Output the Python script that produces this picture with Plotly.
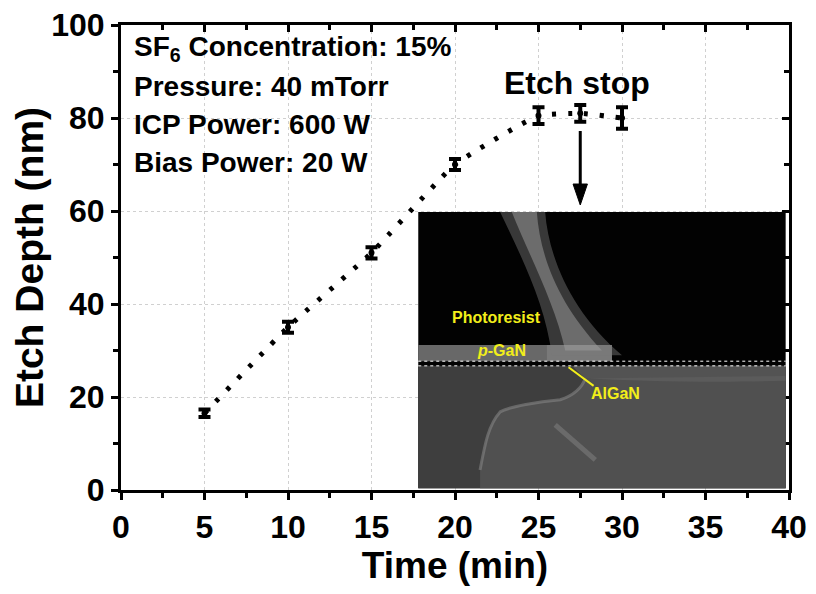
import plotly.graph_objects as go

# etch depth vs time
time_min = [5, 10, 15, 20, 25, 27.5, 30]
etch_depth = [16.5, 35, 51, 70, 80.5, 81, 80]
depth_err = [0.8, 1.2, 1.2, 1.2, 1.8, 1.8, 2.3]

condition_lines = ["SF<sub>6</sub> Concentration: 15%", "Pressure: 40 mTorr",
                   "ICP Power: 600 W", "Bias Power: 20 W"]

FONT = "Liberation Sans"
YELLOW = "#f2ee1a"

fig = go.Figure()

fig.add_trace(go.Scatter(
    x=time_min, y=etch_depth, mode="lines+markers",
    line=dict(color="black", width=5, dash="4px,12px", shape="spline", smoothing=0.4),
    marker=dict(color="black", size=6, symbol="circle"),
    error_y=dict(type="data", array=depth_err, color="black", thickness=4, width=6),
    showlegend=False,
))
# empty trace so the top/right frame axes get drawn
fig.add_trace(go.Scatter(x=[None], y=[None], xaxis="x2", yaxis="y2", showlegend=False, hoverinfo="skip"))

# inset SEM micrograph, drawn with shapes
ix0, ix1, iy0, iy1 = 17.8, 39.8, 0.4, 59.8
shapes = [
    dict(type="rect", x0=ix0, x1=ix1, y0=iy0, y1=iy1, fillcolor="#020202", line_width=0, layer="above"),
    # substrate
    dict(type="rect", x0=ix0, x1=ix1, y0=iy0, y1=26.7, fillcolor="#3e3e3e", line_width=0, layer="above"),
    # lighter region under the rounded hump
    dict(type="path", path="M 21.5 0.4 L 21.5 4.3 C 21.8 10, 22 14, 22.7 16.8 C 23.3 18, 25 19, 26.3 19.4 "
                            "C 27.2 20.5, 27.6 22, 27.8 24 L 39.8 24.5 L 39.8 0.4 Z",
         fillcolor="#545454", line_width=0, opacity=0.85, layer="above"),
    dict(type="path", path="M 21.5 4.3 C 21.8 10, 22 14, 22.7 16.8 C 23.3 18, 25 19, 26.3 19.4 C 27.2 20.5, 27.6 22, 27.8 24",
         line=dict(color="#8a8a8a", width=3), opacity=0.55, layer="above"),
    dict(type="path", path="M 27.8 24 C 31 23.5, 35 23, 39.8 23.5 L 39.8 26.7 L 27 26.7 Z",
         fillcolor="#626262", line_width=0, opacity=0.6, layer="above"),
    # small diagonal streak in the substrate
    dict(type="line", x0=26.0, y0=14.0, x1=28.4, y1=6.5, line=dict(color="#7c7c7c", width=5), opacity=0.6, layer="above"),
    # p-GaN band
    dict(type="rect", x0=ix0, x1=29.4, y0=27.7, y1=31.2, fillcolor="#686868", line_width=0, layer="above"),
    dict(type="rect", x0=25.5, x1=29.4, y0=27.7, y1=31.2, fillcolor="#8a8a8a", line_width=0, opacity=0.5, layer="above"),
    # bright sidewall streak (soft outer, brighter core)
    dict(type="path", path="M 22.7 59.8 L 25.4 59.8 C 25.6 50, 27 38, 30.0 29 L 25.8 29 C 25.4 40, 24 50, 22.7 59.8 Z",
         fillcolor="#7a7a7a", line_width=0, opacity=0.45, layer="above"),
    dict(type="path", path="M 23.4 59.8 L 24.9 59.8 C 25.1 50, 26.2 40, 28.8 30 L 26.6 30 C 26 40, 24.5 50, 23.4 59.8 Z",
         fillcolor="#a0a0a0", line_width=0, opacity=0.5, layer="above"),
    # AlGaN interface dotted lines
    dict(type="line", x0=ix0, x1=ix1, y0=27.7, y1=27.7, line=dict(color="white", width=1, dash="dot"), layer="above"),
    dict(type="line", x0=ix0, x1=ix1, y0=26.7, y1=26.7, line=dict(color="white", width=1, dash="dot"), layer="above"),
    # pointer to AlGaN
    dict(type="line", x0=26.8, x1=28.3, y0=26.4, y1=22.4, line=dict(color=YELLOW, width=2), layer="above"),
    # "etch stop" arrow
    dict(type="line", x0=27.5, x1=27.5, y0=77.2, y1=65.0, line=dict(color="black", width=3), layer="above"),
    dict(type="path", path="M 27.07 65.8 L 27.93 65.8 L 27.5 61.3 Z", fillcolor="black",
         line=dict(color="black", width=1), layer="above"),
]

annotations = []
for i, txt in enumerate(condition_lines):
    annotations.append(dict(
        x=0.017, y=0.95 - i * 0.0817, xref="paper", yref="paper", xanchor="left", yanchor="middle",
        text=txt, showarrow=False, font=dict(family=FONT, size=28, color="black", weight="bold"),
    ))

annotations += [
    dict(x=27.3, y=87.5, text="Etch stop", showarrow=False,
         font=dict(family=FONT, size=32, color="black", weight="bold")),
    dict(x=22.5, y=37, text="Photoresist", showarrow=False,
         font=dict(family=FONT, size=16, color=YELLOW, weight="bold")),
    dict(x=22.8, y=29.9, text="<i>p</i>-GaN", showarrow=False,
         font=dict(family=FONT, size=16, color=YELLOW, weight="bold")),
    dict(x=29.6, y=20.8, text="AlGaN", showarrow=False,
         font=dict(family=FONT, size=16, color=YELLOW, weight="bold")),
]

tick_font = dict(family=FONT, size=32, color="black", weight="bold")

# page body adds an 8px offset, so the figure is sized 800x578
fig.update_layout(
    width=800, height=578,
    margin=dict(l=113, r=19, t=17, b=96, autoexpand=False),
    paper_bgcolor="white", plot_bgcolor="white",
    shapes=shapes, annotations=annotations,
    xaxis=dict(
        range=[0, 40], dtick=5, tick0=0, ticks="outside", ticklen=7, tickwidth=3, tickcolor="black",
        minor=dict(dtick=2.5, ticks="outside", ticklen=5, tickwidth=3, tickcolor="black", showgrid=False),
        showline=True, linewidth=3, linecolor="black", zeroline=False,
        showgrid=True, gridcolor="#d0d0d0", griddash="dot", gridwidth=1,
        tickfont=tick_font, ticklabeloverflow="allow",
        title=dict(text="Time (min)", font=dict(family=FONT, size=37, color="black", weight="bold"), standoff=0),
    ),
    yaxis=dict(
        range=[0, 100], dtick=20, tick0=0, ticks="outside", ticklen=7, tickwidth=3, tickcolor="black",
        minor=dict(dtick=10, ticks="outside", ticklen=5, tickwidth=3, tickcolor="black", showgrid=False),
        showline=True, linewidth=3, linecolor="black", zeroline=False,
        showgrid=True, gridcolor="#d0d0d0", griddash="dot", gridwidth=1,
        tickfont=tick_font, ticklabeloverflow="allow",
        title=dict(text="Etch Depth (nm)", font=dict(family=FONT, size=39, color="black", weight="bold"), standoff=2),
    ),
    xaxis2=dict(
        overlaying="x", side="top", range=[0, 40], dtick=5, ticks="inside", ticklen=7, tickwidth=3,
        tickcolor="black", showticklabels=False, showgrid=False, zeroline=False,
        minor=dict(dtick=2.5, ticks="inside", ticklen=5, tickwidth=3, tickcolor="black"),
        showline=True, linewidth=3, linecolor="black",
    ),
    yaxis2=dict(
        overlaying="y", side="right", range=[0, 100], dtick=20, ticks="inside", ticklen=7, tickwidth=3,
        tickcolor="black", showticklabels=False, showgrid=False, zeroline=False,
        minor=dict(dtick=10, ticks="inside", ticklen=5, tickwidth=3, tickcolor="black"),
        showline=True, linewidth=3, linecolor="black",
    ),
)

fig.write_html("out.html")
